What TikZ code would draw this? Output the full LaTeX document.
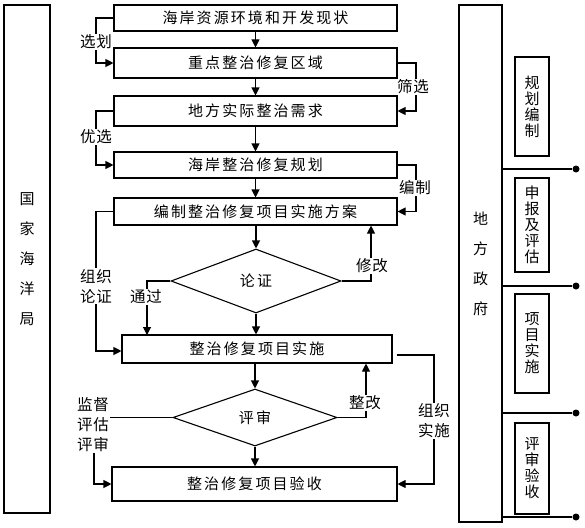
\documentclass[tikz,border=0pt]{standalone}
\usepackage{fontspec}
\setmainfont{Noto Sans CJK SC}
\newfontfamily\cjksp[LetterSpace=14]{Noto Sans CJK SC}
\newfontfamily\cjklab[LetterSpace=6]{Noto Sans CJK SC}
\usetikzlibrary{arrows.meta,shapes.geometric}
\begin{document}
\begin{tikzpicture}[x=1pt,y=-1pt,
  every node/.style={font=\cjksp\fontsize{15}{17}\selectfont, text=black},
  box/.style={draw, line width=1.1pt, inner sep=0pt},
  dia/.style={draw, diamond, line width=1.1pt, inner sep=0pt},
  lab/.style={fill=white, inner sep=1pt, align=center, font=\cjklab\fontsize{15.5}{20}\selectfont},
  vtxt/.style={align=center, font=\rmfamily\fontsize{15}{16}\selectfont},
  arr/.style={line width=1.1pt, -{Triangle[length=8pt,width=8pt]}},
  ln/.style={line width=1.1pt},
  jdot/.style={circle, fill=black, inner sep=0pt, minimum size=7pt}]
\useasboundingbox (0,0) rectangle (585,527);

% side boxes
\node[box, minimum width=46pt, minimum height=508pt, align=center,
      font=\rmfamily\fontsize{15}{30}\selectfont] (gj) at (27,259) {国\\家\\海\\洋\\局};
\node[box, minimum width=43pt, minimum height=517pt, align=center,
      font=\rmfamily\fontsize{15}{30}\selectfont] (df) at (480.5,263.5) {地\\方\\政\\府};

\node[box, vtxt, minimum width=34pt, minimum height=99pt] (r1) at (532,106.5) {规\\划\\编\\制};
\node[box, vtxt, minimum width=34pt, minimum height=94pt] (r2) at (532,225) {申\\报\\及\\评\\估};
\node[box, vtxt, minimum width=34pt, minimum height=99pt] (r3) at (532,343.5) {项\\目\\实\\施};
\node[box, vtxt, minimum width=34pt, minimum height=91pt] (r4) at (532,468.5) {评\\审\\验\\收};

\node[jdot] (p1) at (576,169) {};
\node[jdot] (p2) at (576,286) {};
\node[jdot] (p3) at (576,413) {};
\node[jdot] (p4) at (576,517) {};
\draw[ln] (df.east |- p1) -- (p1);
\draw[ln] (df.east |- p2) -- (p2);
\draw[ln] (df.east |- p3) -- (p3);
\draw[ln] (df.east |- p4) -- (p4);

% main flow
\node[box, minimum width=283pt, minimum height=26pt] (b1) at (255.5,18) {海岸资源环境和开发现状};
\node[box, minimum width=283pt, minimum height=30pt] (b2) at (255.5,63) {重点整治修复区域};
\node[box, minimum width=283pt, minimum height=30pt] (b3) at (255.5,111) {地方实际整治需求};
\node[box, minimum width=283pt, minimum height=26pt] (b4) at (255.5,165) {海岸整治修复规划};
\node[box, minimum width=283pt, minimum height=27pt] (b5) at (255.5,211.5) {编制整治修复项目实施方案};
\node[dia, minimum width=170pt, minimum height=64pt] (d1) at (256,281) {论证};
\node[box, minimum width=270pt, minimum height=28pt] (b6) at (257,349) {整治修复项目实施};
\node[dia, minimum width=164pt, minimum height=57pt] (d2) at (255,417.5) {评审};
\node[box, minimum width=285pt, minimum height=34pt] (b7) at (254.5,484) {整治修复项目验收};

\draw[arr] (b1.south) -- (b2.north);
\draw[arr] (b2.south) -- (b3.north);
\draw[arr] (b3.south) -- (b4.north);
\draw[arr] (b4.south) -- (b5.north);
\draw[arr] (b5.south -| d1.north) -- (d1.north);
\draw[arr] (d1.south) -- (d1.south |- b6.north);
\draw[arr] (d2.north |- b6.south) -- (d2.north);
\draw[arr] (d2.south) -- (d2.south |- b7.north);

% side connectors
\draw[arr] (b1.west) -- (96,18) |- (b2.west);
\node[lab] (l1) at (96,42) {选划};
\draw[arr] (b3.west) -- (96,111) |- (b4.west);
\node[lab] (l2) at (96,137) {优选};
\draw[arr] (b2.east) -- (416,63) |- (b3.east);
\node[lab] (l3) at (413,87) {筛选};
\draw[arr] (b4.east) -- (416,165) |- (b5.east);
\node[lab] (l4) at (415,188) {编制};
\draw[arr] (b5.west) -- (96,211.5) |- ([yshift=-2pt]b6.west);
\node[lab] (l5) at (96,286) {组织\\论证};
\draw[arr] (d1.west) -- (147,281) -- (147,335);
\node[lab] (l6) at (146,297) {通过};
\coordinate (m1) at (371,281);
\draw[arr] (d1.east) -- (m1) -- (m1 |- b5.south);
\node[lab] (l7) at (372,266) {修改};
\coordinate (m2) at (366,417.5);
\draw[arr] (d2.east) -- (m2) -- (m2 |- b6.south);
\node[lab] (l8) at (365,403) {整改};
\draw[arr] ([xshift=4pt,yshift=-6pt]b6.east) -- (434,355) |- (b7.east);
\node[lab] (l9) at (434,421) {组织\\实施};
\draw[arr] (d2.west) -- (94,417.5) |- (b7.west);
\node[lab] (l10) at (93,425) {监督\\评估\\评审};
\end{tikzpicture}
\end{document}
